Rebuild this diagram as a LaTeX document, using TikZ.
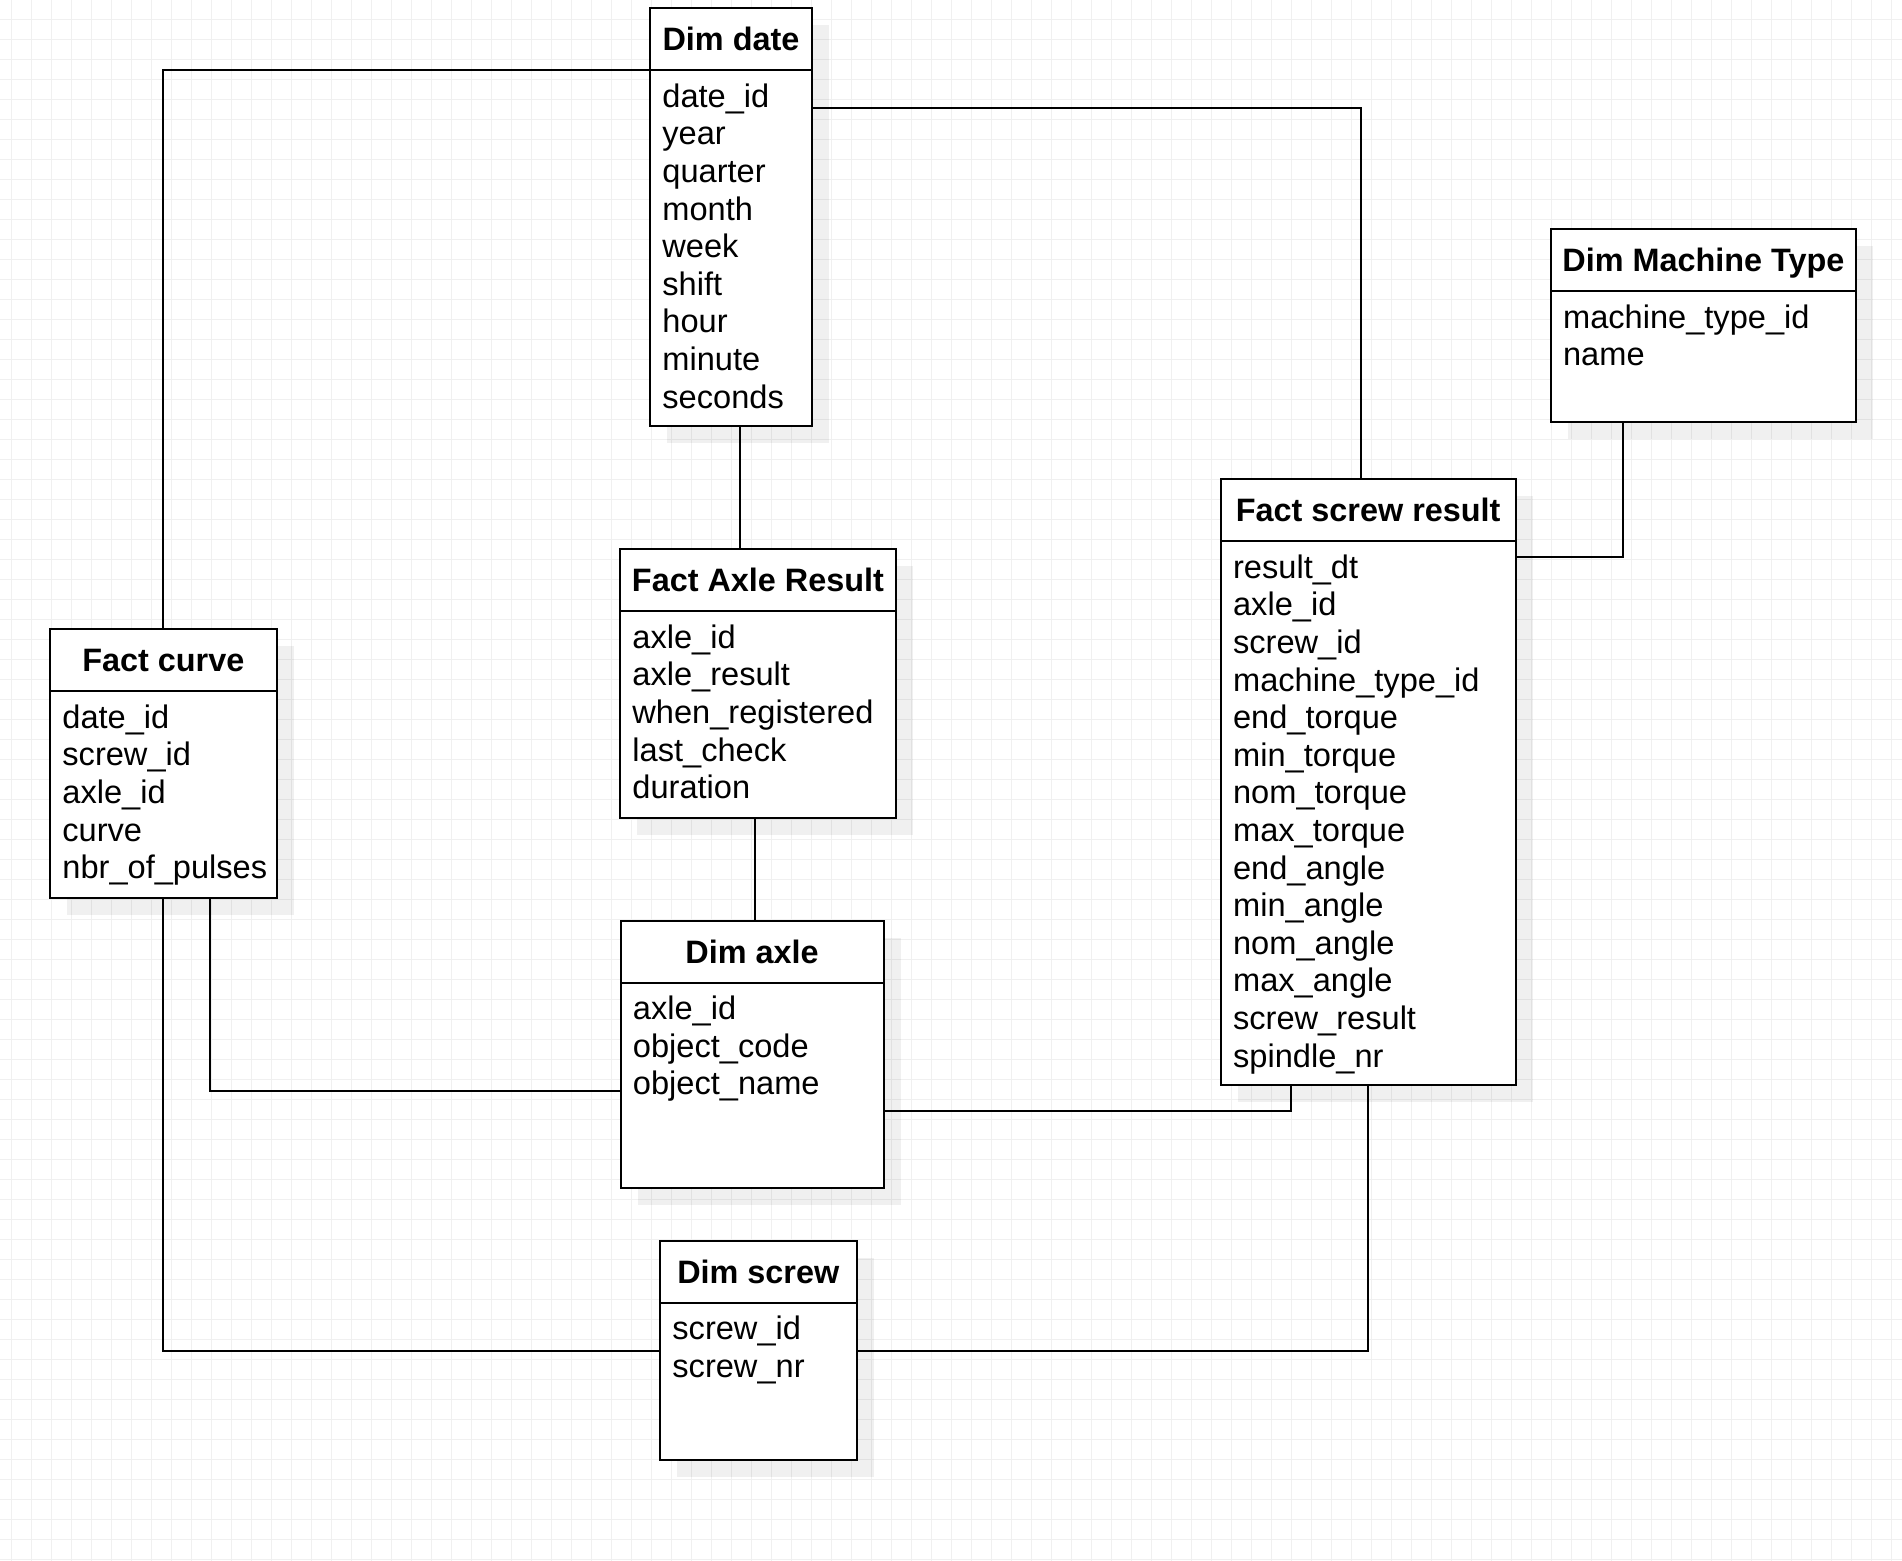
\documentclass[tikz,border=0pt]{standalone}
\usepackage{fontspec}
\setmainfont{Liberation Sans}
\usetikzlibrary{positioning,calc,backgrounds}

\begin{document}
\begin{tikzpicture}[
  x=0.5pt, y=-0.5pt,
  head/.style={draw,fill=white,line width=1pt,anchor=north west,inner sep=0pt,
               outer sep=0pt,minimum height=31pt,text height=11.5pt,text depth=0pt,
               font=\fontsize{16.2}{18.8}\selectfont\bfseries},
  body/.style={draw,fill=white,line width=1pt,inner sep=0pt,outer sep=0pt},
  fields/.style={anchor=north west,align=left,inner xsep=6pt,inner ysep=5.1pt,
                 font=\fontsize{16.3}{18.8}\selectfont},
  link/.style={line width=1pt},
  shade/.style={fill=black,fill opacity=0.06},
  gridl/.style={draw=black!6,line width=0.5pt}]
  \useasboundingbox (0,0) rectangle (1902,1560);

  % Dim date
  \node[head,minimum width=81pt] (date) at (650,8.3) {Dim date};
  \node[body,minimum width=81pt,minimum height=178pt,below=0pt of date] (date-b) {};
  \node[fields] (date-f) at (date-b.north west)
    {\strut date\_id\\year\\quarter\\month\\week\\shift\\hour\\minute\\seconds};

  % Fact Axle Result
  \node[head,minimum width=138pt] (axr) at (620,549.3) {Fact Axle Result};
  \node[body,minimum width=138pt,minimum height=103.3pt,below=0pt of axr] (axr-b) {};
  \node[fields] (axr-f) at (axr-b.north west)
    {\strut axle\_id\\axle\_result\\when\_registered\\last\_check\\duration};

  % Dim Machine Type
  \node[head,minimum width=152.7pt] (mt) at (1550.7,229.3) {Dim Machine Type};
  \node[body,minimum width=152.7pt,minimum height=65.5pt,below=0pt of mt] (mt-b) {};
  \node[fields] (mt-f) at (mt-b.north west) {\strut machine\_type\_id\\name};

  % Fact screw result
  \node[head,minimum width=147.5pt] (fsr) at (1220.7,479.3) {Fact screw result};
  \node[body,minimum width=147.5pt,minimum height=271.7pt,below=0pt of fsr] (fsr-b) {};
  \node[fields] (fsr-f) at (fsr-b.north west)
    {\strut result\_dt\\axle\_id\\screw\_id\\machine\_type\_id\\end\_torque\\min\_torque\\nom\_torque\\max\_torque\\end\_angle\\min\_angle\\nom\_angle\\max\_angle\\screw\_result\\spindle\_nr};

  % Fact curve
  \node[head,minimum width=113.3pt] (curve) at (50,629.3) {Fact curve};
  \node[body,minimum width=113.3pt,minimum height=103.5pt,below=0pt of curve] (curve-b) {};
  \node[fields] (curve-f) at (curve-b.north west)
    {\strut date\_id\\screw\_id\\axle\_id\\curve\\nbr\_of\_pulses};

  % Dim axle
  \node[head,minimum width=131.5pt] (axle) at (620.5,920.5) {Dim axle};
  \node[body,minimum width=131.5pt,minimum height=102.7pt,below=0pt of axle] (axle-b) {};
  \node[fields] (axle-f) at (axle-b.north west)
    {\strut axle\_id\\object\_code\\object\_name};

  % Dim screw
  \node[head,minimum width=98.3pt] (screw) at (660,1240.7) {Dim screw};
  \node[body,minimum width=98.3pt,minimum height=78.7pt,below=0pt of screw] (screw-b) {};
  \node[fields] (screw-f) at (screw-b.north west) {\strut screw\_id\\screw\_nr};

  % relaciones
  \draw[link] (date-b.north west) -| (curve.north);
  \draw[link] ($(date-b.north east)+(0,38)$) -| ($(fsr.north)+(-7.5,0)$);
  \draw[link] ($(date-b.south)+(9,0)$) coordinate (d1) -- (d1 |- axr.north);
  \draw[link] ($(axr-b.south)+(-3,0)$) coordinate (d2) -- (d2 |- axle.north);
  \draw[link] ($(mt-b.south)+(-80,0)$) |- ($(fsr-b.north east)+(0,15.7)$);
  \draw[link] ($(curve-b.south)+(46.7,0)$) |- ($(axle-b.north west)+(0,108)$);
  \draw[link] (curve-b.south) |- ($(screw-b.north west)+(0,48)$);
  \draw[link] ($(axle-b.north east)+(0,128)$) -| ($(fsr-b.south)+(-77.5,0)$);
  \draw[link] (fsr-b.south) |- ($(screw-b.north east)+(0,48)$);

  % fondo: rejilla y sombras
  \begin{scope}[on background layer]
    \fill[white] (0,0) rectangle (1902,1560);
    \draw[gridl,step=10pt,shift={(11.7,19.3)}] (-20,-20) grid (1900,1560);
    \foreach \t in {date,axr,mt,fsr,curve,axle,screw}
      \fill[shade] ($(\t.north west)+(17,17)$) rectangle ($(\t-b.south east)+(17,17)$);
  \end{scope}
\end{tikzpicture}
\end{document}
